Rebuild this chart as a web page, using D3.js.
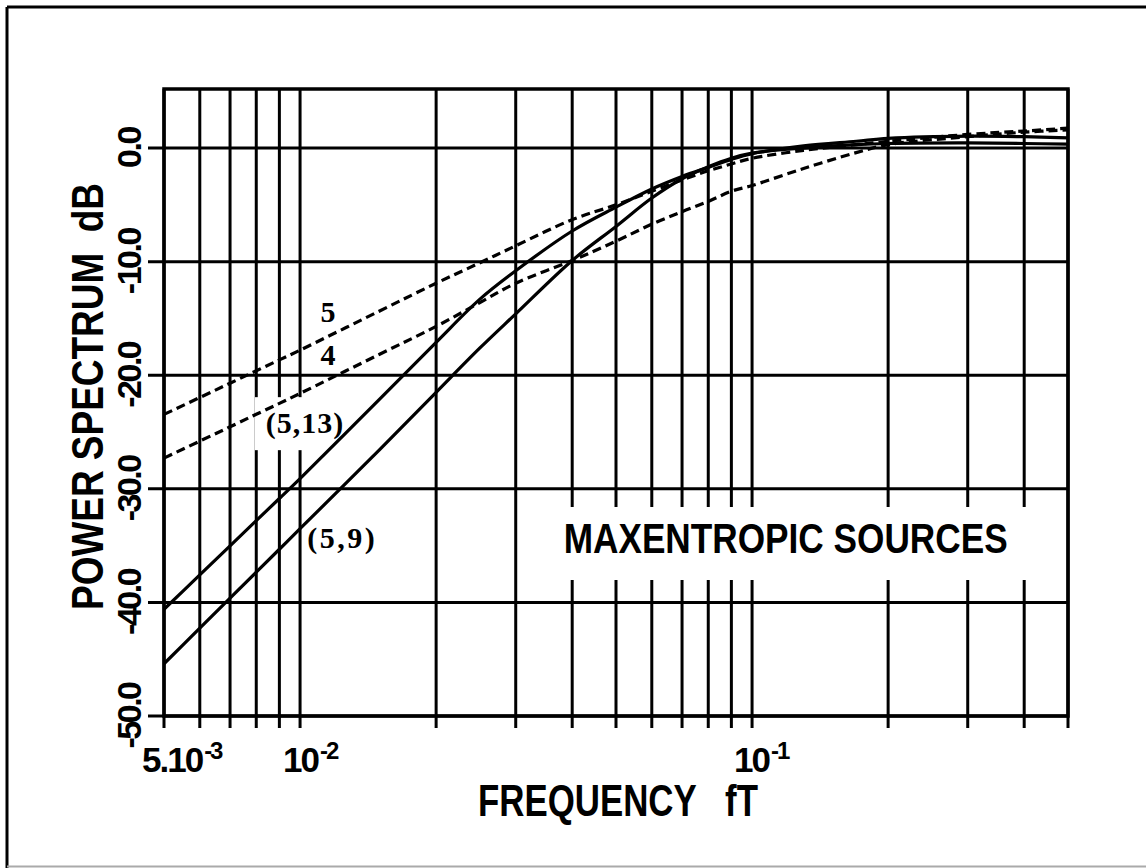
<!DOCTYPE html>
<html><head><meta charset="utf-8">
<script src="https://cdn.jsdelivr.net/npm/d3@7"></script>
<style>body{margin:0;background:#fff} svg{display:block} text{white-space:pre}</style>
</head><body>
<svg id="c" width="1146" height="868"></svg>
<script>
// ---------- data ----------
const freqs    = [0.005,0.006,0.007,0.008,0.009,0.01,0.015,0.02,0.025,0.03,0.04,0.05,0.06,0.07,0.08,0.09,0.1,0.13,0.17,0.2,0.3,0.4,0.5];
const dashed5  = [-23.45,-21.96,-20.7,-19.61,-18.65,-17.79,-14.34,-11.9,-10.1,-8.6,-6.3,-5.0,-3.8,-2.8,-2.0,-1.4,-0.9,-0.2,0.3,0.6,1.2,1.5,1.75];
const dashed4  = [-27.3,-25.8,-24.54,-23.44,-22.48,-21.6,-18.15,-15.7,-13.6,-11.9,-9.9,-8.2,-6.7,-5.6,-4.7,-3.8,-3.3,-1.8,-0.4,0.3,1.0,1.4,1.6];
const solid513 = [-40.6,-37.58,-35.02,-32.8,-30.85,-29.1,-22.1,-17.1,-13.3,-10.8,-7.3,-5.2,-3.6,-2.5,-1.7,-1.0,-0.5,0.2,0.6,0.85,1.05,1.0,0.9];
const solid59  = [-45.4,-42.27,-39.63,-37.34,-35.32,-33.51,-26.55,-21.5,-17.6,-14.6,-9.9,-6.9,-4.4,-2.7,-1.65,-0.9,-0.45,0.0,0.3,0.4,0.45,0.4,0.35];
const seriesNames = ["5","4","(5,13)","(5,9)"];
const xGrid = [0.005,0.006,0.007,0.008,0.009,0.01,0.02,0.03,0.04,0.05,0.06,0.07,0.08,0.09,0.1,0.2,0.3,0.4,0.5];
const yTicks = [0,-10,-20,-30,-40,-50];
const yTickLabels = ["0.0","-10.0","-20.0","-30.0","-40.0","-50.0"];
const xTickValues = [0.005,0.01,0.1];
const xTickBases  = ["5.10","10","10"];
const xTickExps   = ["-3","-2","-1"];
const xTitle = "FREQUENCY   fT";
const yTitle = "POWER SPECTRUM  dB";
const noteText = "MAXENTROPIC SOURCES";

// ---------- layout ----------
const svg = d3.select("#c");
const L = 164, R = 1068, T = 89, B = 716;
const x = d3.scaleLog().domain([0.005, 0.5]).range([L, R]);
const y = d3.scaleLinear().domain([-50, 5.2]).range([B, T]);

// outer frame
svg.append("line").attr("x1",7).attr("y1",7).attr("x2",1146).attr("y2",7).attr("stroke","#000").attr("stroke-width",3);
svg.append("line").attr("x1",7).attr("y1",7).attr("x2",7).attr("y2",868).attr("stroke","#000").attr("stroke-width",3);
svg.append("line").attr("x1",7).attr("y1",866.5).attr("x2",1146).attr("y2",866.5).attr("stroke","#aaa").attr("stroke-width",2);

const grid = svg.append("g").attr("stroke","#000").attr("stroke-width",3);
grid.selectAll("line.v").data(xGrid).join("line")
  .attr("x1", d => x(d)).attr("x2", d => x(d))
  .attr("y1", T).attr("y2", B + 12);
grid.selectAll("line.h").data(yTicks).join("line")
  .attr("x1", L - 16).attr("x2", R)
  .attr("y1", d => y(d)).attr("y2", d => y(d));
svg.append("rect").attr("x", L).attr("y", T).attr("width", R - L).attr("height", B - T)
  .attr("fill","none").attr("stroke","#000").attr("stroke-width",3.5);

const serif = "Liberation Serif, Times New Roman, serif";
const sans = "Liberation Sans, Arial, Helvetica, sans-serif";
const annotations = [
  {text: seriesNames[0], f: 0.0111, db: -15.3, font: serif, size: 30, ls: 0, pad: null},
  {text: seriesNames[1], f: 0.0111, db: -19.1, font: serif, size: 30, ls: 0, pad: null},
  {text: seriesNames[2], f: 0.0084, db: -25.1, font: serif, size: 30, ls: 1, pad: [11,8,9,10]},
  {text: seriesNames[3], f: 0.01037, db: -35.2, font: serif, size: 30, ls: 2.5, pad: [4,4,4,4]},
  {text: noteText, f: 0.0383, db: -35.65, font: sans, size: 42, ls: 0, len: 444, pad: [23,50,8,18]}
];
const boxG = svg.append("g");
const curveG = svg.append("g");
const textG = svg.append("g");

annotations.forEach(a => {
  const t = textG.append("text")
    .attr("x", x(a.f)).attr("y", y(a.db))
    .attr("font-family", a.font).attr("font-weight","bold")
    .attr("font-size", a.size).attr("letter-spacing", a.ls)
    .attr("fill","#000").text(a.text);
  if (a.len) t.attr("textLength", a.len).attr("lengthAdjust","spacingAndGlyphs");
  if (a.pad) {
    const bb = t.node().getBBox();
    const [pl, pr, pt, pb] = a.pad;
    boxG.append("rect").attr("x", bb.x - pl).attr("y", bb.y - pt)
      .attr("width", bb.width + pl + pr).attr("height", bb.height + pt + pb)
      .attr("fill","#fff");
  }
});

// curves
const series = [
  {vals: dashed5, dash: "9,5"},
  {vals: dashed4, dash: "9,5"},
  {vals: solid513, dash: null},
  {vals: solid59, dash: null}
];
const line = d3.line().x(d => x(d[0])).y(d => y(d[1])).curve(d3.curveCatmullRom.alpha(0.5));
series.forEach(s => {
  const p = curveG.append("path")
    .attr("d", line(freqs.map((f, i) => [f, s.vals[i]])))
    .attr("fill","none").attr("stroke","#000").attr("stroke-width",3.2)
    .attr("stroke-linejoin","round");
  if (s.dash) p.attr("stroke-dasharray", s.dash);
});

// y tick labels (rotated)
yTicks.forEach((v, i) => {
  svg.append("text")
    .attr("transform", `translate(141,${y(v)}) rotate(-90)`)
    .attr("text-anchor","middle")
    .attr("font-family", sans).attr("font-weight","bold").attr("font-size",34)
    .attr("letter-spacing",-2.5)
    .text(yTickLabels[i]);
});
// y title
svg.append("text")
  .attr("transform", `translate(103,${(183+610)/2}) rotate(-90)`)
  .attr("text-anchor","middle")
  .attr("font-family", sans).attr("font-weight","bold").attr("font-size",45)
  .attr("textLength",427).attr("lengthAdjust","spacingAndGlyphs")
  .text(yTitle);

// x tick labels with superscripts
const xOffsets = [-22, -17, -18];
xTickValues.forEach((v, i) => {
  const t = svg.append("text")
    .attr("x", x(v) + xOffsets[i]).attr("y", 772)
    .attr("font-family", sans).attr("font-weight","bold").attr("font-size",35)
    .attr("letter-spacing",-2);
  t.append("tspan").text(xTickBases[i]);
  t.append("tspan").attr("font-size",24).attr("dy",-13).attr("dx",2).text(xTickExps[i]);
});
// x title
svg.append("text")
  .attr("x", 618).attr("y", 816).attr("text-anchor","middle")
  .attr("font-family", sans).attr("font-weight","bold").attr("font-size",44)
  .attr("textLength",280).attr("lengthAdjust","spacingAndGlyphs")
  .text(xTitle);
</script>
</body></html>
